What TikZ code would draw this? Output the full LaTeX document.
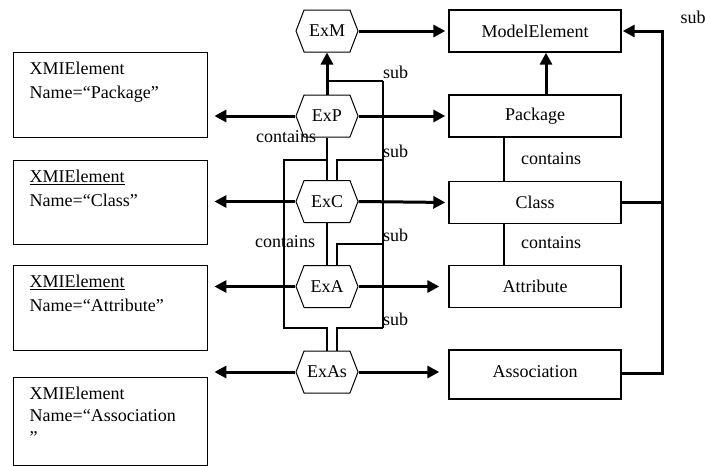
\documentclass[tikz,border=0pt]{standalone}
\usepackage{fontspec}
\setmainfont{Liberation Serif}
\usetikzlibrary{arrows.meta,shapes.symbols}
\tikzset{
  lbox/.style={draw,line width=1.4pt,inner xsep=16pt,inner ysep=9pt,anchor=north west},
  rbox/.style={draw,line width=1.4pt,minimum width=172pt,minimum height=42pt},
  hexa/.style={draw,line width=1pt,shape=signal,signal to=west and east,signal pointer angle=138,minimum width=62pt,minimum height=42pt,inner sep=0pt},
  thk/.style={line width=3pt},
  arr/.style={line width=3pt,-{Triangle[length=12pt,width=12pt]}},
  thn/.style={line width=1.2pt},
  lbl/.style={inner sep=0pt},
}
\newcommand{\lboxtext}[2]{\parbox[t][#1][t]{162pt}{\baselineskip=24pt #2}}
\begin{document}
\begin{tikzpicture}[x=1pt,y=-1pt,font=\fontsize{18}{24}\selectfont]
\useasboundingbox (0,0) rectangle (705,466);
% left boxes
\node[lbox,minimum width=193pt] (l1) at (13,52) {\lboxtext{67pt}{XMIElement\\Name=“Package”}};
\node[lbox,minimum width=193pt] (l2) at (13,160) {\lboxtext{66pt}{\underline{XMIElement}\\Name=“Class”}};
\node[lbox,minimum width=193pt] (l3) at (13,265) {\lboxtext{67pt}{\underline{XMIElement}\\Name=“Attribute”}};
\node[lbox,minimum width=193pt] (l4) at (13,377) {\parbox[t][70pt][t]{162pt}{\baselineskip=22pt XMIElement\\Name=“Association\\”}};
% right boxes
\node[rbox] (me) at (535,31) {ModelElement};
\node[rbox] (pk) at (535,116) {Package};
\node[rbox] (cl) at (535,202.5) {Class};
\node[rbox] (at) at (535,286.5) {Attribute};
\node[rbox,minimum height=49pt] (as) at (535,374.5) {\raisebox{5pt}{Association}};
% hexagons
\node[hexa] (exm) at (327,31) {ExM};
\node[hexa] (exp) at (327,116) {ExP};
\node[hexa] (exc) at (327,201.5) {ExC};
\node[hexa] (exa) at (327,286.5) {ExA};
\node[hexa] (exas) at (327,372) {ExAs};
% coordinates
\coordinate (s1) at (383,81);
\coordinate (s2) at (383,160);
\coordinate (s3) at (383,244);
\coordinate (s4) at (383,328);
\coordinate (cL) at (284,160);
\coordinate (cB) at (284,328);
\coordinate (rt) at (662,31);
\coordinate (rb) at (662,373);
% thin lines
\draw[thn] (s1) -- (s1 -| exp.north);
\draw[thn] (s1) -- (s4);
\draw[thn] (s2) -| ([xshift=10pt]exc.north);
\draw[thn] (s3) -| ([xshift=10pt]exa.north);
\draw[thn] (s4) -| ([xshift=10pt]exas.north);
\draw[thn] (exp.south) -- (exc.north);
\draw[thn] (exc.south) -- (exa.north);
\draw[thn] (exp.south |- cL) -- (cL) -- (cB) -- (cB -| exas.north) -- (exas.north);
\draw[thn] ([xshift=-31pt]pk.south) -- ([xshift=-31pt]cl.north);
\draw[thn] ([xshift=-31pt]cl.south) -- ([xshift=-31pt]at.north);
% labels
\node[lbl,anchor=base west] (t1) at ([yshift=3pt]s1) {sub};
\node[lbl,anchor=base west] (t2) at ([yshift=3pt]s2) {sub};
\node[lbl,anchor=base west] (t3) at ([yshift=3pt]s3) {sub};
\node[lbl,anchor=base west] (t4) at ([yshift=3pt]s4) {sub};
\node[lbl] (t5) at (693,17) {sub};
\node[lbl] (c1) at (286,137) {contains};
\node[lbl] (c2) at (285,242) {contains};
\node[lbl] (c3) at (551,159) {contains};
\node[lbl] (c4) at (551,243) {contains};
% thick arrows
\draw[arr] (exp.north) -- (exm.south);
\draw[arr,shorten >=3pt] (exm.east) -- (me.west);
\draw[arr,shorten >=3pt] (exp.east) -- (pk.west);
\draw[arr,shorten >=3pt] (exc.east) -- (cl.west);
\draw[arr,shorten >=9pt] (exa.east) -- (at.west);
\draw[arr,shorten >=9pt] (exas.east) -- (exas.east -| as.west);
\draw[arr,shorten >=6pt] (exp.west) -- (exp.west -| l1.east);
\draw[arr,shorten >=6pt] (exc.west) -- (exc.west -| l2.east);
\draw[arr,shorten >=6pt] (exa.west) -- (exa.west -| l3.east);
\draw[arr,shorten >=6pt] (exas.west) -- (exas.west -| l4.east);
\draw[arr] ([xshift=11pt]pk.north) -- ([xshift=11pt]me.south);
\draw[thk] (cl.east) -- (cl.east -| rt);
\draw[arr,shorten >=1pt] (as.east |- rb) -- (rb) -- (rt) -- (me.east);
\end{tikzpicture}
\end{document}
